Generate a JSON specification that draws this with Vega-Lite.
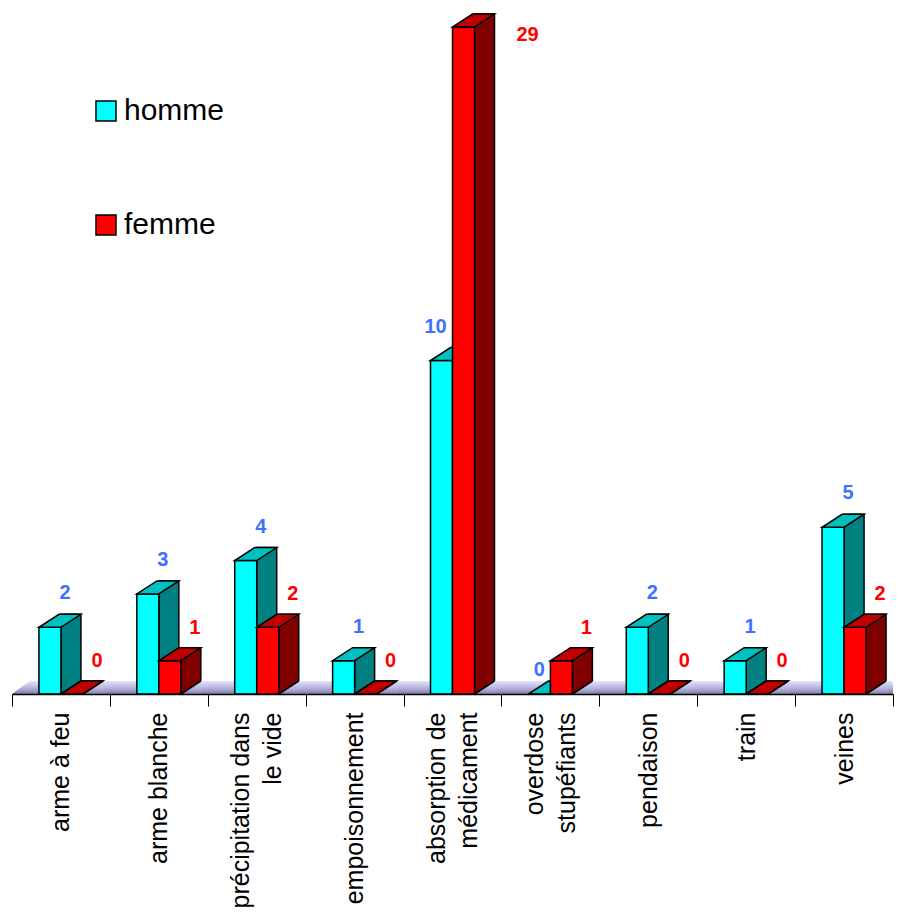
{
  "$schema": "https://vega.github.io/schema/vega-lite/v6.json",
  "width": 881,
  "height": 667,
  "autosize": {"type": "none"},
  "padding": {"left": 12, "top": 27, "right": 6, "bottom": 221},
  "background": "white",
  "config": {"view": {"stroke": null}, "font": "Liberation Sans"},
  "data": {
    "values": [
      {"cause": "arme à feu", "sexe": "homme", "n": 2},
      {"cause": "arme à feu", "sexe": "femme", "n": 0},
      {"cause": "arme blanche", "sexe": "homme", "n": 3},
      {"cause": "arme blanche", "sexe": "femme", "n": 1},
      {"cause": "précipitation dans le vide", "sexe": "homme", "n": 4},
      {"cause": "précipitation dans le vide", "sexe": "femme", "n": 2},
      {"cause": "empoisonnement", "sexe": "homme", "n": 1},
      {"cause": "empoisonnement", "sexe": "femme", "n": 0},
      {"cause": "absorption de médicament", "sexe": "homme", "n": 10},
      {"cause": "absorption de médicament", "sexe": "femme", "n": 29},
      {"cause": "overdose stupéfiants", "sexe": "homme", "n": 0},
      {"cause": "overdose stupéfiants", "sexe": "femme", "n": 1},
      {"cause": "pendaison", "sexe": "homme", "n": 2},
      {"cause": "pendaison", "sexe": "femme", "n": 0},
      {"cause": "train", "sexe": "homme", "n": 1},
      {"cause": "train", "sexe": "femme", "n": 0},
      {"cause": "veines", "sexe": "homme", "n": 5},
      {"cause": "veines", "sexe": "femme", "n": 2}
    ]
  },
  "layer": [
    {
      "mark": {
        "type": "rect",
        "yOffset": -13,
        "x2Offset": 8,
        "fill": {"gradient": "linear", "x1": 0, "y1": 0, "x2": 0, "y2": 1,
          "stops": [
            {"offset": 0, "color": "#E4E4FA"},
            {"offset": 0.5, "color": "#B8B8E2"},
            {"offset": 1, "color": "#7C7CA4"}
          ]}
      },
      "encoding": {
        "y": {"datum": 0, "type": "quantitative", "scale": {"domain": [0, 20], "clamp": true}, "axis": null},
        "y2": {"datum": 0}
      }
    },
    {
      "encoding": {
        "x": {
          "field": "cause", "type": "nominal", "sort": null,
          "scale": {"paddingInner": 0, "paddingOuter": 0},
          "axis": {
            "title": null, "labelAngle": -90, "labelFontSize": 25, "labelFont": "Liberation Sans",
            "labelColor": "black", "labelLineHeight": 32, "labelPadding": 6, "labelLimit": 0,
            "labelOffset": {"condition": {"test": "datum.value === 'précipitation dans le vide' || datum.value === 'absorption de médicament' || datum.value === 'overdose stupéfiants'", "value": -16}, "value": 0},
            "tickSize": 12, "tickColor": "black", "tickWidth": 1, "tickBand": "extent",
            "domainColor": "black", "domainWidth": 1.5, "grid": false, "zindex": 1,
            "labelExpr": "datum.value === 'précipitation dans le vide' ? ['précipitation dans', 'le vide'] : datum.value === 'absorption de médicament' ? ['absorption de', 'médicament'] : datum.value === 'overdose stupéfiants' ? ['overdose', 'stupéfiants'] : datum.label"
          }
        },
        "y": {"field": "n", "type": "quantitative", "stack": null, "scale": {"domain": [0, 20], "clamp": true}, "axis": null}
      },
      "layer": [
        {
          "transform": [{"filter": "datum.sexe === 'homme' && datum.cause === 'arme à feu'"}],
          "mark": {"type": "point", "xOffset": -11, "shape": "M-4.0,-1.45L-1.8,-1.45L-3.8,0L-4.0,0Z", "size": 400, "filled": true, "opacity": 1, "strokeWidth": 0, "fill": "white"},
          "encoding": {"y": {"datum": 0, "type": "quantitative"}}
        },
        {
          "transform": [{"filter": "datum.sexe === 'homme'"}],
          "layer": [
            {"mark": {"type": "bar", "width": 20, "xOffset": 10, "yOffset": -13, "fill": "#008080", "stroke": "black", "strokeWidth": 1.5}},
            {"mark": {"type": "point", "xOffset": -11, "shape": "M1.1,0.1L3.1,-1.3L3.3,-1.3L3.3,0.1Z", "size": 400, "filled": true, "opacity": 1, "strokeWidth": 0,
               "fill": {"gradient": "linear", "x1": 0, "y1": 0, "x2": 0, "y2": 1, "stops": [{"offset": 0, "color": "#E4E4FA"}, {"offset": 0.5, "color": "#B8B8E2"}, {"offset": 1, "color": "#7C7CA4"}]}},
             "encoding": {"y": {"datum": 0, "type": "quantitative"}}},
            {"mark": {"type": "point", "xOffset": -11, "shape": "M1.1,0L3.1,-1.3", "size": 400, "filled": false, "opacity": 1, "stroke": "black", "strokeWidth": 1.5},
             "encoding": {"y": {"datum": 0, "type": "quantitative"}}},
            {"mark": {"type": "bar", "width": 22, "xOffset": -11, "stroke": "black", "strokeWidth": 1.5},
             "encoding": {"fill": {"field": "sexe", "type": "nominal",
               "scale": {"domain": ["homme", "femme"], "range": ["#00FFFF", "#FF0000"]},
               "legend": {"orient": "none", "legendX": 79, "legendY": 69, "title": null, "symbolType": "square", "symbolSize": 400,
                 "symbolStrokeColor": "black", "symbolStrokeWidth": 1.5, "labelFontSize": 30, "labelFont": "Liberation Sans",
                 "labelColor": "black", "rowPadding": 84, "labelOffset": 3, "padding": 0}}}},
            {"mark": {"type": "point", "xOffset": -11, "shape": "M-1.1,0L1.1,0L3.1,-1.3L0.9,-1.3Z", "size": 400, "filled": true, "opacity": 1,
              "fill": "#00C0C0", "stroke": "black", "strokeWidth": 1.5, "strokeJoin": "miter"}}
          ]
        },
        {
          "transform": [{"filter": "datum.sexe === 'femme'"}],
          "layer": [
            {"mark": {"type": "bar", "width": 20, "xOffset": 32, "yOffset": -13, "fill": "#800000", "stroke": "black", "strokeWidth": 1.5}},
            {"mark": {"type": "point", "xOffset": 11, "shape": "M1.1,0.1L3.1,-1.3L3.3,-1.3L3.3,0.1Z", "size": 400, "filled": true, "opacity": 1, "strokeWidth": 0,
               "fill": {"gradient": "linear", "x1": 0, "y1": 0, "x2": 0, "y2": 1, "stops": [{"offset": 0, "color": "#E4E4FA"}, {"offset": 0.5, "color": "#B8B8E2"}, {"offset": 1, "color": "#7C7CA4"}]}},
             "encoding": {"y": {"datum": 0, "type": "quantitative"}}},
            {"mark": {"type": "point", "xOffset": 11, "shape": "M1.1,0L3.1,-1.3", "size": 400, "filled": false, "opacity": 1, "stroke": "black", "strokeWidth": 1.5},
             "encoding": {"y": {"datum": 0, "type": "quantitative"}}},
            {"mark": {"type": "bar", "width": 22, "xOffset": 11, "stroke": "black", "strokeWidth": 1.5},
             "encoding": {"fill": {"field": "sexe", "type": "nominal",
               "scale": {"domain": ["homme", "femme"], "range": ["#00FFFF", "#FF0000"]},
               "legend": {"orient": "none", "legendX": 79, "legendY": 69, "title": null, "symbolType": "square", "symbolSize": 400,
                 "symbolStrokeColor": "black", "symbolStrokeWidth": 1.5, "labelFontSize": 30, "labelFont": "Liberation Sans",
                 "labelColor": "black", "rowPadding": 84, "labelOffset": 3, "padding": 0}}}},
            {"mark": {"type": "point", "xOffset": 11, "shape": "M-1.1,0L1.1,0L3.1,-1.3L0.9,-1.3Z", "size": 400, "filled": true, "opacity": 1,
              "fill": "#C00000", "stroke": "black", "strokeWidth": 1.5, "strokeJoin": "miter"}}
          ]
        },
        {
          "transform": [{"filter": "datum.sexe === 'homme' && datum.n > 0 && datum.n < 10"}],
          "mark": {"type": "text", "dx": 4, "dy": -34, "fontWeight": "bold", "fontSize": 20, "font": "Liberation Sans", "color": "#4070FF", "baseline": "middle"},
          "encoding": {"text": {"field": "n", "type": "quantitative"}}
        },
        {
          "transform": [{"filter": "datum.sexe === 'homme' && datum.n === 0"}],
          "mark": {"type": "text", "dx": -11, "dy": -24, "fontWeight": "bold", "fontSize": 20, "font": "Liberation Sans", "color": "#4070FF", "baseline": "middle"},
          "encoding": {"text": {"field": "n", "type": "quantitative"}}
        },
        {
          "transform": [{"filter": "datum.sexe === 'homme' && datum.n >= 10"}],
          "mark": {"type": "text", "dx": -17, "dy": -34, "fontWeight": "bold", "fontSize": 20, "font": "Liberation Sans", "color": "#4070FF", "baseline": "middle"},
          "encoding": {"text": {"field": "n", "type": "quantitative"}}
        },
        {
          "transform": [{"filter": "datum.sexe === 'femme' && datum.n <= 20"}],
          "mark": {"type": "text", "dx": 36, "dy": -33, "fontWeight": "bold", "fontSize": 20, "font": "Liberation Sans", "color": "#FF0000", "baseline": "middle"},
          "encoding": {"text": {"field": "n", "type": "quantitative"}}
        },
        {
          "transform": [{"filter": "datum.sexe === 'femme' && datum.n > 20"}],
          "mark": {"type": "text", "dx": 75, "dy": 8, "fontWeight": "bold", "fontSize": 20, "font": "Liberation Sans", "color": "#FF0000", "baseline": "middle"},
          "encoding": {"text": {"field": "n", "type": "quantitative"}}
        }
      ]
    }
  ]
}
